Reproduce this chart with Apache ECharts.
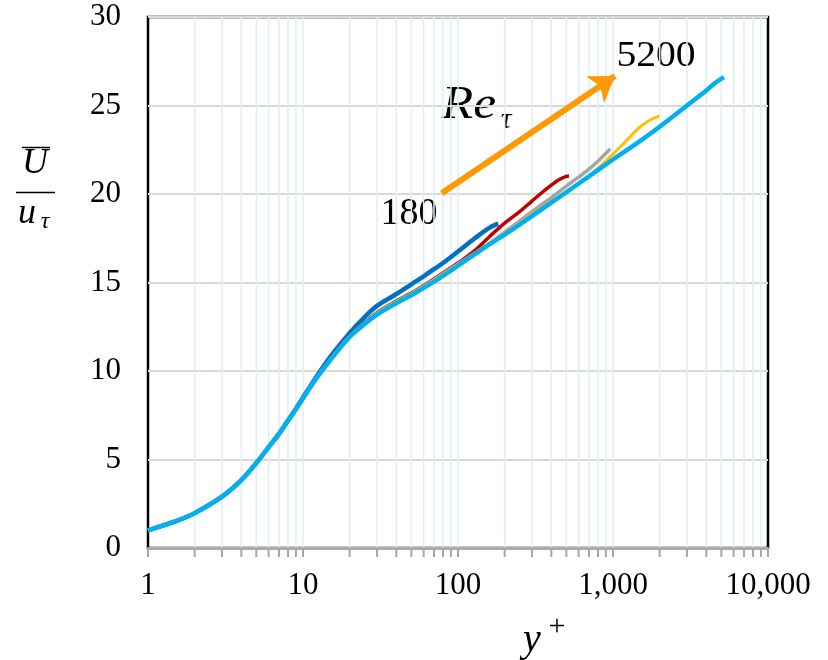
<!DOCTYPE html>
<html>
<head>
<meta charset="utf-8">
<script src="https://cdn.jsdelivr.net/npm/echarts@6/dist/echarts.min.js"></script>
<style>html,body{margin:0;padding:0;background:#fff}#c{width:828px;height:660px}</style>
</head>
<body>
<div id="c"></div>
<script>
// ---- data (y+, U+) ----
const seriesNames = ['Re_tau = 180', 'Re_tau = 550', 'Re_tau = 1000', 'Re_tau = 2000', 'Re_tau = 5200'];
const seriesColors = ['#0070C0', '#C00000', '#A5A5A5', '#FFC000', '#00B0F0'];

const yPlus180 = [1, 1.5, 2, 3, 4, 5, 6, 7, 8, 9, 10, 12, 15, 20, 25, 30, 40, 50, 60, 70, 80, 100, 120, 140, 160, 175, 182];
const u180     = [1.0, 1.5, 1.97, 2.9, 3.84, 4.8, 5.7, 6.45, 7.2, 7.87, 8.5, 9.58, 10.8, 12.15, 13.05, 13.68, 14.35, 14.9, 15.35, 15.75, 16.1, 16.75, 17.3, 17.75, 18.1, 18.27, 18.32];

const yPlus550 = [1, 1.5, 2, 3, 4, 5, 6, 7, 8, 9, 10, 12, 15, 20, 25, 30, 40, 50, 70, 100, 130, 160, 200, 250, 300, 350, 400, 450, 500, 520];
const u550     = [1.0, 1.5, 1.97, 2.9, 3.84, 4.8, 5.7, 6.45, 7.2, 7.86, 8.47, 9.52, 10.7, 12.0, 12.75, 13.3, 13.95, 14.4, 15.2, 16.1, 16.85, 17.6, 18.35, 19.0, 19.6, 20.1, 20.5, 20.82, 21.0, 21.02];

const yPlus1000 = [1, 1.5, 2, 3, 4, 5, 6, 7, 8, 9, 10, 12, 15, 20, 25, 30, 40, 50, 70, 100, 150, 200, 300, 400, 500, 600, 700, 800, 900, 960];
const u1000     = [1.0, 1.5, 1.97, 2.9, 3.84, 4.8, 5.7, 6.45, 7.2, 7.85, 8.46, 9.5, 10.67, 11.97, 12.72, 13.27, 13.92, 14.37, 15.15, 16.05, 17.05, 17.85, 19.0, 19.8, 20.45, 20.95, 21.4, 21.85, 22.3, 22.55];

const yPlus2000 = [1, 1.5, 2, 3, 4, 5, 6, 7, 8, 9, 10, 12, 15, 20, 25, 30, 40, 50, 70, 100, 200, 300, 500, 700, 1000, 1200, 1500, 1800, 1990];
const u2000     = [1.0, 1.5, 1.97, 2.9, 3.84, 4.8, 5.7, 6.45, 7.2, 7.85, 8.45, 9.5, 10.66, 11.96, 12.7, 13.25, 13.9, 14.35, 15.12, 16.02, 17.75, 18.85, 20.15, 21.0, 22.25, 22.95, 23.8, 24.25, 24.4];

const yPlus5200 = [1, 1.5, 2, 3, 4, 5, 6, 7, 8, 9, 10, 12, 15, 20, 25, 30, 40, 50, 70, 100, 150, 200, 300, 500, 700, 1000, 1500, 2000, 3000, 4000, 4600, 5200];
const u5200     = [1.0, 1.5, 1.97, 2.9, 3.84, 4.8, 5.7, 6.45, 7.2, 7.85, 8.45, 9.5, 10.62, 11.92, 12.65, 13.18, 13.83, 14.28, 15.05, 15.95, 17.0, 17.7, 18.75, 20.1, 21.0, 21.95, 23.0, 23.8, 25.0, 25.85, 26.3, 26.6];

const xTickValues = [1,2,3,4,5,6,7,8,9,10,20,30,40,50,60,70,80,90,100,200,300,400,500,600,700,800,900,1000,2000,3000,4000,5000,6000,7000,8000,9000,10000];
const yTickLabels = ['0','5','10','15','20','25','30'];
const arrowFrom = [78.5, 20.04];
const arrowTo = [1030, 26.67];

// ---- chart ----
const SERIF = "'Liberation Serif','Times New Roman',serif";
const xs = [yPlus180, yPlus550, yPlus1000, yPlus2000, yPlus5200];
const us = [u180, u550, u1000, u2000, u5200];
const widths = [4.5, 3.5, 3.5, 3, 4.5];

const lineSeries = xs.map((xArr, i) => ({
  name: seriesNames[i],
  type: 'line',
  data: xArr.map((x, j) => [x, us[i][j]]),
  showSymbol: false,
  smooth: 0.35,
  lineStyle: { color: seriesColors[i], width: widths[i] },
  itemStyle: { color: seriesColors[i] },
  z: 3 + i,
  animation: false,
  silent: true
}));

const arrowSeries = {
  type: 'line',
  data: [],
  silent: true,
  animation: false,
  z: 9,
  markLine: {
    silent: true,
    animation: false,
    symbol: ['none', 'arrow'],
    symbolSize: 24,
    label: { show: false },
    lineStyle: { color: '#FF9900', width: 6, type: 'solid', opacity: 1 },
    itemStyle: { color: '#FF9900' },
    emphasis: { disabled: true },
    data: [[{ coord: arrowFrom }, { coord: arrowTo }]]
  }
};

const gridSeries = {
  type: 'custom',
  silent: true,
  animation: false,
  z: 1,
  clip: false,
  data: xTickValues.map(v => [v, 0]),
  renderItem: (params, api) => {
    const v = api.value(0);
    const top = api.coord([v, 30]);
    const bot = api.coord([v, 0]);
    const children = [];
    if (v > 1 && v < 10000) {
      children.push({ type: 'line', shape: { x1: top[0], y1: top[1], x2: bot[0], y2: bot[1] },
        style: { stroke: '#DDEFF3', lineWidth: 1.5 } });
    }
    children.push({ type: 'line', shape: { x1: bot[0], y1: bot[1], x2: bot[0], y2: bot[1] + 9 },
      style: { stroke: '#A6A6A6', lineWidth: 2 } });
    return { type: 'group', children };
  }
};

function commas(v) {
  return String(Math.round(v)).replace(/\B(?=(\d{3})+(?!\d))/g, ',');
}

const chart = echarts.init(document.getElementById('c'), null, { renderer: 'canvas' });
chart.setOption({
  backgroundColor: '#fff',
  animation: false,
  grid: { left: 148, right: 60, top: 17, bottom: 112, show: true, borderColor: '#000', borderWidth: 2.5, backgroundColor: 'transparent' },
  xAxis: {
    type: 'log', logBase: 10, min: 1, max: 10000,
    z: 6,
    axisLine: { show: true, lineStyle: { color: '#A6A6A6', width: 2.5 } },
    axisTick: { show: false },
    splitLine: { show: false },
    axisLabel: { margin: 22, fontFamily: SERIF, fontSize: 31, color: '#000', formatter: v => commas(v) }
  },
  yAxis: {
    type: 'value', min: 0, max: 30, interval: 5,
    axisLine: { show: false },
    axisTick: { show: false },
    splitLine: { show: true, lineStyle: { color: '#D9D9D9', width: 2 } },
    axisLabel: { margin: 27, fontFamily: SERIF, fontSize: 31, color: '#000', formatter: (v) => yTickLabels[Math.round(v / 5)] }
  },
  series: [gridSeries].concat(lineSeries, [arrowSeries]),
  graphic: [
    // y-axis title: U-bar over u_tau
    { type: 'line', shape: { x1: 22, y1: 147.5, x2: 50, y2: 147.5 }, style: { stroke: '#000', lineWidth: 1.5 } },
    { type: 'text', x: 35, y: 164, style: { text: 'U', font: 'italic 36px ' + SERIF, fill: '#000', align: 'center', verticalAlign: 'middle' } },
    { type: 'line', shape: { x1: 16, y1: 192.5, x2: 55, y2: 192.5 }, style: { stroke: '#000', lineWidth: 1.5 } },
    { type: 'text', x: 27, y: 214, style: { text: 'u', font: 'italic 36px ' + SERIF, fill: '#000', align: 'center', verticalAlign: 'middle' } },
    { type: 'text', x: 45, y: 222, style: { text: 'τ', font: 'italic 24px ' + SERIF, fill: '#000', align: 'center', verticalAlign: 'middle' } },
    // x-axis title y+
    { type: 'text', x: 532, y: 640, style: { text: 'y', font: 'italic 40px ' + SERIF, fill: '#000', align: 'center', verticalAlign: 'middle' } },
    { type: 'text', x: 557, y: 627, style: { text: '+', font: '30px ' + SERIF, fill: '#000', align: 'center', verticalAlign: 'middle' } },
    // annotations
    { type: 'text', x: 656, y: 57, scaleX: 1.1, style: { text: '5200', font: '36px ' + SERIF, fill: '#000', align: 'center', verticalAlign: 'middle' } },
    { type: 'text', x: 409, y: 214, style: { text: '180', font: '38px ' + SERIF, fill: '#000', align: 'center', verticalAlign: 'middle' } },
    { type: 'text', x: 469, y: 106, scaleX: 1.12, style: { text: 'Re', font: 'italic 46px ' + SERIF, fill: '#000', align: 'center', verticalAlign: 'middle' } },
    { type: 'text', x: 506, y: 120, style: { text: 'τ', font: 'italic 30px ' + SERIF, fill: '#000', align: 'center', verticalAlign: 'middle' } }
  ]
});
</script>
</body>
</html>
